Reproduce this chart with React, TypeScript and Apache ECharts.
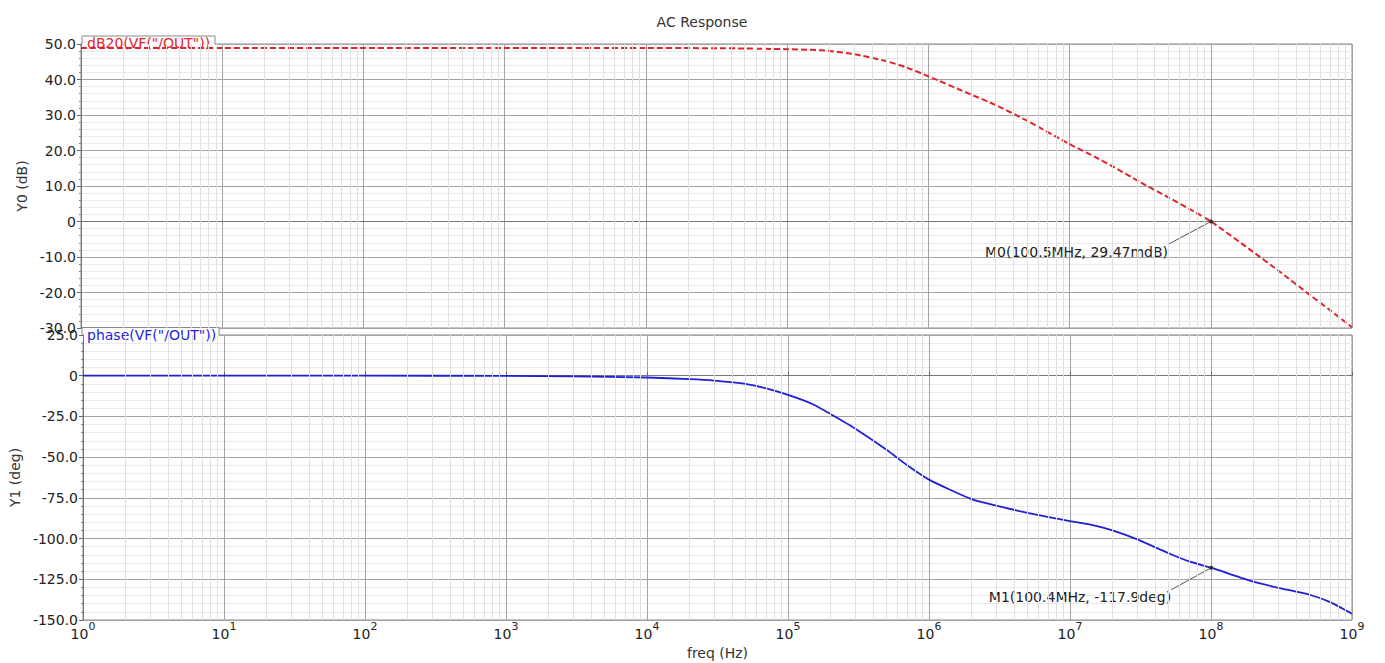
import React, { useEffect, useRef } from "react";
import * as echarts from "echarts";

// Frequency sweep points (Hz) and the simulated AC response at each of them
const freqHz = [
  1, 10, 100, 1e3, 3e3, 1e4, 2e4, 3e4, 5e4, 7e4, 1e5, 1.5e5, 2e5, 3e5, 5e5,
  7e5, 1e6, 2e6, 3e6, 5e6, 1e7, 1.5e7, 2e7, 3e7, 5e7, 7e7, 1e8, 2e8, 3e8, 5e8,
  7e8, 1e9,
];
const gainDb = [
  48.9, 48.9, 48.9, 48.9, 48.9, 48.9, 48.85, 48.8, 48.75, 48.65, 48.55, 48.35,
  48.05, 47.1, 45.2, 43.4, 40.9, 35.8, 32.8, 28.4, 21.8, 18.3, 15.6, 11.6, 6.8,
  3.6, 0.03, -8.6, -13.8, -20.6, -25.0, -29.8,
];
const phaseDeg = [
  0, 0, 0, -0.1, -0.4, -1.1, -2.1, -3.0, -5.0, -7.8, -11.8, -17.5, -23.5,
  -32.5, -45.5, -55.0, -63.8, -75.8, -79.8, -84.2, -89.3, -92.0, -95.0,
  -100.5, -109.0, -114.0, -117.9, -126.5, -130.2, -134.5, -139.0, -146.2,
];

// Markers placed on the two traces
const markerFreq = [1.005e8, 1.004e8];
const markerValue = [0.02947, -117.9];
const markerText = ["M0(100.5MHz, 29.47mdB)", "M1(100.4MHz, -117.9deg)"];

// Trace names shown in the tabs
const traceNames = ['dB20(VF("/OUT"))', 'phase(VF("/OUT"))'];

const FONT = "DejaVu Sans";
const FS = 14;
const RED = "#e3232b";
const BLUE = "#1f1fd6";
const GRID_LEFT = 81;
const GRID_RIGHT = 33;
const TOP_PLOT = { top: 44, height: 284 };
const BOTTOM_PLOT = { top: 335, height: 285 };

// 2..9 × 10^n positions for the minor log grid
const minorFreqs: number[] = [];
for (let e = 0; e < 9; e++) {
  for (let k = 2; k <= 9; k++) minorFreqs.push(k * Math.pow(10, e));
}

const tickFmt = (v: number) => (v === 0 ? "0" : v.toFixed(1));

function xAxisBase(gridIndex: number) {
  return {
    type: "log" as const,
    logBase: 10,
    min: 1,
    max: 1e9,
    gridIndex,
    axisLine: { show: true, lineStyle: { color: "#777" } },
    splitLine: { show: true, lineStyle: { color: "#a3a3a3", width: 1 } },
  };
}

function yAxisBase(gridIndex: number, min: number, max: number, interval: number, name: string) {
  return {
    type: "value" as const,
    gridIndex,
    min,
    max,
    interval,
    name,
    nameLocation: "middle" as const,
    nameGap: 42,
    nameTextStyle: { fontSize: FS, color: "#333", fontFamily: FONT },
    axisLine: { show: true, lineStyle: { color: "#777" } },
    axisTick: { show: true, length: 4, lineStyle: { color: "#666" } },
    minorTick: { show: true, splitNumber: 5, length: 2, lineStyle: { color: "#888" } },
    axisLabel: { formatter: tickFmt, fontSize: FS, color: "#222", margin: 5, fontFamily: FONT },
    splitLine: { show: true, lineStyle: { color: "#a3a3a3", width: 1 } },
    minorSplitLine: { show: true, lineStyle: { color: "#ebebeb", width: 1 } },
  };
}

function minorGridSeries(index: number) {
  return {
    type: "line" as const,
    xAxisIndex: index,
    yAxisIndex: index,
    data: [],
    z: 1,
    silent: true,
    markLine: {
      silent: true,
      symbol: ["none", "none"],
      label: { show: false },
      lineStyle: { color: "#e0e0e0", width: 1, type: "solid" },
      emphasis: { disabled: true },
      data: minorFreqs.map((f) => ({ xAxis: f })),
    },
  };
}

function tab(id: string, x1: number, x2: number, yTop: number, yBase: number, textY: number, label: string, color: string) {
  return {
    type: "group",
    id,
    z: 100,
    children: [
      { type: "rect", shape: { x: x1, y: yTop, width: x2 - x1, height: textY + 6 - yTop }, style: { fill: "#fff" } },
      {
        type: "polyline",
        shape: { points: [[x1, yBase], [x1, yTop], [x2, yTop], [x2, yBase]] },
        style: { stroke: "#888", lineWidth: 1, fill: null },
      },
      {
        type: "text",
        style: { text: label, x: x1 + 5, y: textY, verticalAlign: "middle", fontSize: FS, fill: color, fontFamily: FONT },
      },
    ],
  };
}

export default function App() {
  const ref = useRef<HTMLDivElement>(null);

  useEffect(() => {
    if (!ref.current) return;
    const chart = echarts.init(ref.current, null, { renderer: "svg" });
    const gainData = freqHz.map((f, i) => [f, gainDb[i]]);
    const phaseData = freqHz.map((f, i) => [f, phaseDeg[i]]);
    const tabs = [
      tab("tab0", 82, 215, 36, 44, 43, traceNames[0], RED),
      tab("tab1", 82, 219, 327.5, 335, 335, traceNames[1], BLUE),
    ];

    chart.setOption({
      animation: false,
      backgroundColor: "#ffffff",
      textStyle: { fontFamily: FONT },
      title: {
        text: "AC Response",
        left: 697,
        top: 10,
        textAlign: "center",
        textStyle: { fontSize: FS, fontWeight: "normal", color: "#333", fontFamily: FONT },
      },
      grid: [
        { left: GRID_LEFT, right: GRID_RIGHT, ...TOP_PLOT, show: true, borderColor: "#888", borderWidth: 1, backgroundColor: "#fff" },
        { left: GRID_LEFT, right: GRID_RIGHT, ...BOTTOM_PLOT, show: true, borderColor: "#888", borderWidth: 1, backgroundColor: "#fff" },
      ],
      xAxis: [
        { ...xAxisBase(0), axisLabel: { show: false }, axisTick: { show: false } },
        {
          ...xAxisBase(1),
          name: "freq (Hz)",
          nameLocation: "middle",
          nameGap: 26,
          nameTextStyle: { fontSize: FS, color: "#333", fontFamily: FONT },
          axisTick: { show: true, inside: true, length: 4, lineStyle: { color: "#666" } },
          axisLabel: {
            margin: 1,
            color: "#222",
            formatter: (v: number) => `{b|10}{s|${Math.round(Math.log10(v))}}`,
            rich: {
              b: { fontSize: 14, lineHeight: 20, verticalAlign: "bottom", color: "#222", fontFamily: FONT },
              s: { fontSize: 11, lineHeight: 12, verticalAlign: "top", color: "#222", fontFamily: FONT },
            },
          },
        },
      ],
      yAxis: [yAxisBase(0, -30, 50, 10, "Y0 (dB)"), yAxisBase(1, -150, 25, 25, "Y1 (deg)")],
      series: [
        minorGridSeries(0),
        minorGridSeries(1),
        {
          name: traceNames[0],
          type: "line",
          xAxisIndex: 0,
          yAxisIndex: 0,
          data: gainData,
          showSymbol: false,
          smooth: 0.2,
          z: 3,
          lineStyle: { color: RED, width: 2, type: [6, 3] },
          markPoint: {
            symbol: "circle",
            symbolSize: 4,
            label: { show: false },
            itemStyle: { color: "#333" },
            data: [{ coord: [markerFreq[0], markerValue[0]] }],
          },
        },
        {
          name: traceNames[1],
          type: "line",
          xAxisIndex: 1,
          yAxisIndex: 1,
          data: phaseData,
          showSymbol: false,
          smooth: 0.2,
          z: 3,
          lineStyle: { color: BLUE, width: 1.8 },
          markPoint: {
            symbol: "circle",
            symbolSize: 4,
            label: { show: false },
            itemStyle: { color: "#333" },
            data: [{ coord: [markerFreq[1], markerValue[1]] }],
          },
        },
      ],
      graphic: tabs,
    });

    // Marker callouts: leader line from the marked point to its text
    const offsets = [
      { dx: -43, dy: 23, ty: 31 },
      { dx: -40, dy: 22, ty: 29 },
    ];
    const callouts = markerFreq.map((f, i) => {
      const p = chart.convertToPixel({ gridIndex: i }, [f, markerValue[i]]) as number[];
      const o = offsets[i];
      return {
        type: "group",
        id: `callout${i}`,
        z: 90,
        children: [
          {
            type: "line",
            shape: { x1: p[0], y1: p[1], x2: p[0] + o.dx, y2: p[1] + o.dy },
            style: { stroke: "#555", lineWidth: 1 },
          },
          {
            type: "text",
            style: {
              text: markerText[i],
              x: p[0] + o.dx,
              y: p[1] + o.ty,
              align: "right",
              verticalAlign: "middle",
              fontSize: FS,
              fill: "#222",
              fontFamily: FONT,
            },
          },
        ],
      };
    });
    chart.setOption({ graphic: [...tabs, ...callouts] }, { replaceMerge: ["graphic"] });

    return () => chart.dispose();
  }, []);

  return (
    <div
      ref={ref}
      style={{ position: "absolute", left: 0, top: 0, width: 1385, height: 663 }}
    />
  );
}
